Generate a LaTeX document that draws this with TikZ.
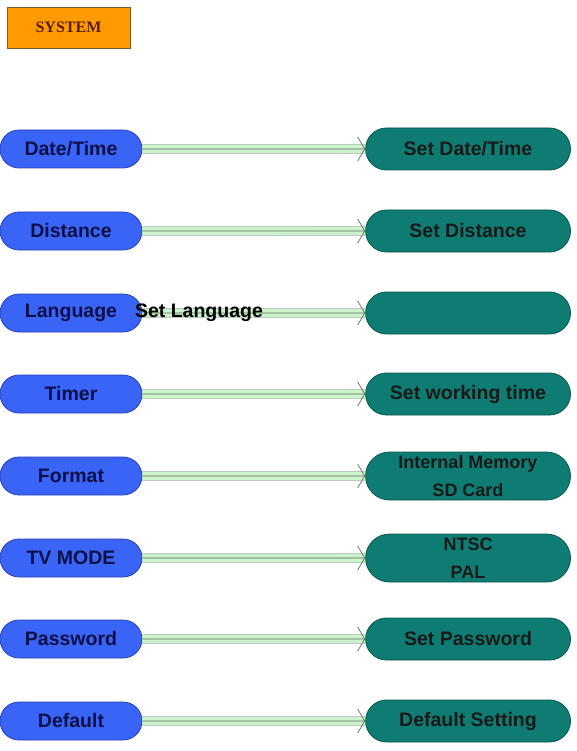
\documentclass[tikz,border=0pt]{standalone}
\usepackage{fontspec}
\newfontfamily\fuenteSans{Liberation Sans}
\newfontfamily\fuenteSerif{Liberation Serif}
\usepackage{xcolor}
\definecolor{naranja}{RGB}{255, 154, 0}
\definecolor{naranjaBorde}{RGB}{125, 90, 40}
\definecolor{marron}{RGB}{90, 30, 5}
\definecolor{azul}{RGB}{58, 100, 246}
\definecolor{azulOscuro}{RGB}{40, 62, 185}
\definecolor{azulTexto}{RGB}{12, 16, 70}
\definecolor{verdeAzulado}{RGB}{14, 124, 114}
\definecolor{verdeBorde}{RGB}{10, 88, 80}
\definecolor{verdeClaro}{RGB}{204, 244, 204}
\definecolor{grisVerde}{RGB}{150, 170, 150}
\definecolor{grisOscuro}{RGB}{95, 105, 95}
\usepackage{tikz}
\usetikzlibrary{arrows.meta,shapes.misc,positioning}
\tikzstyle{titulo}=[rectangle, draw=naranjaBorde, fill=naranja, line width=0.8pt,
                    minimum width=123pt, minimum height=41pt, inner sep=0pt,
                    text=marron, font=\fuenteSerif\bfseries\fontsize{16}{18}\selectfont]
\tikzstyle{menu}  =[rounded rectangle, draw=azulOscuro, fill=azul, line width=0.8pt,
                    minimum width=142pt, minimum height=38pt, inner sep=0pt,
                    text=azulTexto, font=\fuenteSans\bfseries\fontsize{19.5}{21}\selectfont]
\tikzstyle{opcion}=[rounded rectangle, draw=verdeBorde, fill=verdeAzulado, line width=0.8pt,
                    minimum width=205pt, minimum height=42pt, inner sep=0pt, align=center,
                    text=black!90, font=\fuenteSans\bfseries\fontsize{19.5}{21}\selectfont]
\tikzstyle{doble} =[minimum height=48pt, font=\fuenteSans\bfseries\fontsize{18}{28}\selectfont]
\tikzstyle{banda} =[line width=0.6pt, grisVerde, double=verdeClaro, double distance=8pt]
\tikzstyle{edge}  =[line width=0.7pt, grisOscuro,
                    -{Straight Barb[length=7pt, width=24pt]}]

\begin{document}
\begin{tikzpicture}[x=1pt,y=-1pt]
    \useasboundingbox (0,0) rectangle (576,751);

    \draw (68.5,27.5) node (sys) [titulo] {SYSTEM};

    \draw (71,149) node (date) [menu] {Date/Time};
    \draw (71,231) node (dist) [menu] {Distance};
    \draw (71,313) node (lang) [menu] {Language};
    \draw (71,394) node (timer) [menu] {Timer};
    \draw (71,476) node (form) [menu] {Format};
    \draw (71,558) node (tv) [menu] {TV MODE};
    \draw (71,639) node (pass) [menu] {Password};
    \draw (71,721) node (def) [menu] {Default};

    \draw (468,149) node (sdate) [opcion] {Set Date/Time};
    \draw (468,231) node (sdist) [opcion] {Set Distance};
    \draw (468,313) node (slang) [opcion] {};
    \draw (468,394) node (stimer) [opcion] {Set working time};
    \draw (468,476) node (sform) [opcion,doble] {Internal Memory\\SD Card};
    \draw (468,558) node (stv) [opcion,doble] {NTSC\\PAL};
    \draw (468,639) node (spass) [opcion] {Set Password};
    \draw (468,721) node (sdef) [opcion] {Default Setting};

    \foreach \i/\j in{date/sdate,dist/sdist,lang/slang,timer/stimer,
    form/sform,tv/stv,pass/spass,def/sdef}
    {
        \draw [banda] (\i) to (\j);
        \draw [edge] (\i) to (\j);
    }

    \draw (199,313) node (txtlang) [font=\fuenteSans\bfseries\fontsize{19.5}{21}\selectfont] {Set Language};

\end{tikzpicture}
\end{document}
